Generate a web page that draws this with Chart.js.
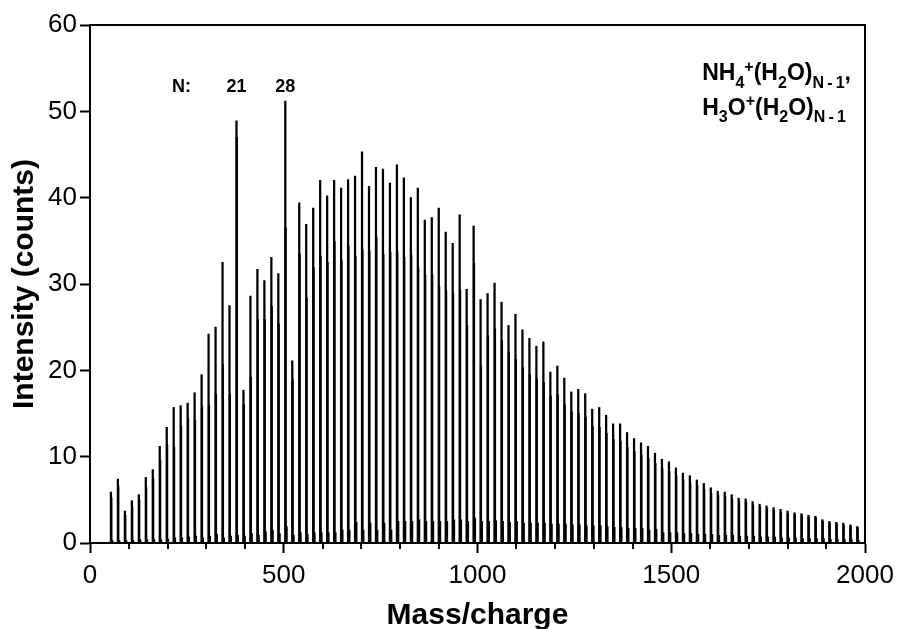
<!DOCTYPE html>
<html>
<head>
<meta charset="utf-8">
<title>Water cluster ion mass spectrum</title>
<script src="https://cdn.jsdelivr.net/npm/chart.js@4.4.1/dist/chart.umd.min.js"></script>
<style>
    html, body { margin: 0; padding: 0; background: #fff; }
    #wrap { position: relative; width: 897px; height: 629px; }
</style>
</head>
<body>
<div id="wrap"><canvas id="spectrumChart"></canvas></div>
<script>
// Cluster masses (m/z) of NH4+(H2O)N-1, N = 3 ... 110
const clusterMass = [
    54, 72, 90, 108, 126, 144, 162, 180, 198, 216,
    234, 252, 270, 288, 306, 324, 342, 360, 378, 396,
    414, 432, 450, 468, 486, 504, 522, 540, 558, 576,
    594, 612, 630, 648, 666, 684, 702, 720, 738, 756,
    774, 792, 810, 828, 846, 864, 882, 900, 918, 936,
    954, 972, 990, 1008, 1026, 1044, 1062, 1080, 1098, 1116,
    1134, 1152, 1170, 1188, 1206, 1224, 1242, 1260, 1278, 1296,
    1314, 1332, 1350, 1368, 1386, 1404, 1422, 1440, 1458, 1476,
    1494, 1512, 1530, 1548, 1566, 1584, 1602, 1620, 1638, 1656,
    1674, 1692, 1710, 1728, 1746, 1764, 1782, 1800, 1818, 1836,
    1854, 1872, 1890, 1908, 1926, 1944, 1962, 1980
];

// Tallest line of each cluster (counts)
const peakIntensity = [
    5.9, 7.4, 3.7, 4.9, 5.6, 7.6, 8.5, 11.2, 13.4, 15.7,
    15.9, 16.2, 17.4, 19.5, 24.2, 25.0, 32.5, 27.5, 48.9, 17.7,
    28.6, 31.7, 30.4, 33.1, 31.2, 51.2, 21.1, 39.4, 36.9, 38.8,
    42.0, 40.2, 42.0, 41.1, 42.1, 42.5, 45.3, 41.3, 43.5, 43.3,
    41.7, 43.8, 42.3, 40.0, 41.1, 37.4, 37.7, 38.8, 36.0, 34.7,
    38.0, 29.4, 36.7, 28.2, 28.9, 30.1, 27.9, 25.2, 26.5, 24.7,
    23.7, 22.8, 23.3, 19.8, 20.5, 19.1, 17.5, 17.8, 17.3, 15.5,
    15.7, 14.8, 13.8, 13.8, 12.8, 12.1, 11.6, 11.2, 10.4, 9.7,
    9.4, 8.7, 8.1, 7.8, 7.3, 6.9, 6.4, 6.0, 5.9, 5.6,
    5.2, 5.1, 4.8, 4.5, 4.3, 4.1, 3.9, 3.7, 3.5, 3.4,
    3.2, 3.1, 2.7, 2.5, 2.4, 2.3, 2.1, 1.9
];

// Second line of each pair, H3O+(H2O)N-1 one mass unit higher (counts)
const pairIntensity = [
    5.2, 6.6, 3.2, 4.2, 5.0, 6.4, 7.5, 9.6, 11.4, 11.1,
    13.5, 14.4, 14.2, 15.9, 15.9, 17.2, 20.7, 17.2, 47.0, 16.0,
    19.2, 25.9, 25.9, 27.4, 25.4, 36.5, 19.0, 33.5, 28.4, 31.9,
    33.2, 32.5, 34.9, 32.7, 34.4, 33.2, 34.0, 33.8, 35.4, 33.4,
    33.7, 33.8, 33.1, 33.4, 31.9, 31.0, 31.1, 29.7, 29.2, 28.9,
    29.3, 25.2, 32.4, 20.5, 24.0, 24.8, 23.5, 22.1, 21.3, 20.3,
    19.5, 19.0, 18.6, 17.0, 17.2, 16.0, 15.2, 15.0, 14.6, 13.5,
    13.4, 12.7, 12.0, 11.8, 11.1, 10.6, 10.2, 9.8, 9.2, 8.6,
    8.3, 7.8, 7.3, 7.0, 6.6, 6.2, 5.8, 5.5, 5.4, 5.1,
    4.8, 4.7, 4.4, 4.2, 4.0, 3.8, 3.6, 3.4, 3.3, 3.2,
    3.0, 2.9, 2.5, 2.3, 2.2, 2.1, 2.0, 1.8
];

// Small satellite peaks just above each cluster mass (counts)
const satelliteIntensity = [
    0.3, 0.3, 0.3, 0.3, 0.4, 0.4, 0.4, 0.4, 0.45, 0.6,
    0.6, 0.7, 0.8, 0.6, 0.8, 1.0, 0.6, 0.8, 0.9, 0.8,
    1.1, 0.9, 1.3, 1.5, 1.1, 1.9, 0.9, 1.2, 1.0, 1.2,
    1.2, 1.2, 1.2, 1.5, 1.5, 2.4, 1.5, 2.3, 1.5, 2.3,
    1.5, 2.5, 2.5, 2.5, 2.7, 2.5, 2.5, 2.5, 2.5, 2.7,
    2.7, 2.5, 2.9, 2.5, 2.5, 2.6, 2.5, 2.4, 2.5, 2.3,
    2.3, 2.3, 2.3, 2.2, 2.2, 2.2, 2.1, 2.1, 2.0, 2.0,
    2.0, 1.9, 1.8, 1.8, 1.7, 1.7, 1.7, 1.5, 1.6, 1.2,
    1.2, 1.2, 1.1, 1.1, 1.0, 1.0, 1.0, 0.9, 0.9, 0.9,
    0.8, 0.8, 0.8, 0.7, 0.7, 0.7, 0.6, 0.6, 0.6, 0.5,
    0.5, 0.5, 0.5, 0.4, 0.4, 0.4, 0.4, 0.3
];

// Clusters marked above the spectrum
const markedClusters = ['21', '28'];
const markedMass = [378, 504];

const FONT = '"Liberation Sans", Arial, Helvetica, sans-serif';

const toPoints = (masses, values, shift) =>
    masses.map((m, i) => ({ x: m + shift, y: values[i] }));

// Minor x ticks every 100 plus labels N:, 21, 28 and the ion formulas
const annotations = {
    id: 'annotations',
    afterDraw(chart) {
        const { ctx, chartArea } = chart;
        const x = chart.scales.x;
        const y = chart.scales.y;
        ctx.save();

        // minor ticks (major ones come from the axis itself)
        ctx.strokeStyle = '#000';
        ctx.lineWidth = 2;
        for (let v = 100; v < 2000; v += 100) {
            if (v % 500 === 0) continue;
            const px = Math.round(x.getPixelForValue(v));
            ctx.beginPath();
            ctx.moveTo(px, chartArea.bottom);
            ctx.lineTo(px, chartArea.bottom + 6);
            ctx.stroke();
        }

        ctx.fillStyle = '#000';
        ctx.font = 'bold 18px ' + FONT;
        ctx.textAlign = 'center';
        ctx.textBaseline = 'middle';
        const labelY = y.getPixelForValue(52.8);
        ctx.fillText('N:', x.getPixelForValue(236), labelY);
        markedClusters.forEach((txt, i) => {
            ctx.fillText(txt, x.getPixelForValue(markedMass[i]), labelY);
        });

        // NH4+(H2O)N-1, / H3O+(H2O)N-1 with sub- and superscripts
        const drawRich = (parts, startX, baseY) => {
            let cx = startX;
            parts.forEach(([text, kind]) => {
                const size = kind === 'n' ? 23 : 16;
                const dy = kind === 'sub' ? 7.5 : (kind === 'sup' ? -8.5 : 0);
                ctx.font = 'bold ' + size + 'px ' + FONT;
                ctx.fillText(text, cx, baseY + dy);
                cx += ctx.measureText(text).width;
            });
        };
        ctx.textAlign = 'left';
        ctx.textBaseline = 'alphabetic';
        const left = x.getPixelForValue(1580);
        drawRich([['NH', 'n'], ['4', 'sub'], ['+', 'sup'], ['(H', 'n'], ['2', 'sub'],
                  ['O)', 'n'], ['N\u2009-\u20091', 'sub'], [',', 'n']], left, y.getPixelForValue(53.6));
        drawRich([['H', 'n'], ['3', 'sub'], ['O', 'n'], ['+', 'sup'], ['(H', 'n'], ['2', 'sub'],
                  ['O)', 'n'], ['N\u2009-\u20091', 'sub']], left, y.getPixelForValue(49.6));
        ctx.restore();
    }
};

const barStyle = {
    backgroundColor: '#000',
    borderWidth: 0,
    barThickness: 1.6,
    grouped: false
};

new Chart(document.getElementById('spectrumChart'), {
    type: 'bar',
    data: {
        datasets: [
            { label: 'satellite', data: toPoints(clusterMass, satelliteIntensity, 4), ...barStyle, barThickness: 1.1 },
            { label: 'H3O+(H2O)N-1', data: toPoints(clusterMass, pairIntensity, 1), ...barStyle },
            { label: 'NH4+(H2O)N-1', data: toPoints(clusterMass, peakIntensity, 0), ...barStyle }
        ]
    },
    options: {
        responsive: true,
        maintainAspectRatio: false,
        animation: false,
        devicePixelRatio: 1,
        layout: { padding: { top: 25, right: 32, bottom: 0, left: 0 } },
        plugins: {
            legend: { display: false },
            tooltip: { enabled: false }
        },
        scales: {
            x: {
                type: 'linear',
                position: 'bottom',
                min: 0,
                max: 2000,
                offset: false,
                grid: {
                    offset: false,
                    drawOnChartArea: false,
                    drawTicks: true,
                    tickLength: 10,
                    tickWidth: 2,
                    tickColor: ctx => (ctx.tick && ctx.tick.value % 500 === 0) ? '#000' : 'rgba(0,0,0,0)'
                },
                border: { display: true, color: '#000', width: 2 },
                ticks: {
                    stepSize: 100,
                    autoSkip: false,
                    maxRotation: 0,
                    padding: 7,
                    color: '#000',
                    font: { family: FONT, size: 26, lineHeight: 1.2 },
                    callback: v => (v % 500 === 0 ? String(v) : '')
                },
                title: {
                    display: true,
                    text: 'Mass/charge',
                    color: '#000',
                    font: { family: FONT, size: 30, weight: 'bold', lineHeight: 1.0 },
                    padding: { top: 0, bottom: -1.5 }
                },
                afterFit: scale => {
                    scale.height = 86;
                    scale.paddingLeft = 0;
                    scale.paddingRight = 0;
                }
            },
            y: {
                type: 'linear',
                position: 'left',
                min: 0,
                max: 60,
                grid: {
                    drawOnChartArea: false,
                    drawTicks: true,
                    tickLength: 10,
                    tickWidth: 2,
                    tickColor: '#000'
                },
                border: { display: true, color: '#000', width: 2 },
                ticks: {
                    stepSize: 10,
                    padding: 3,
                    color: '#000',
                    font: { family: FONT, size: 26, lineHeight: 1.2 }
                },
                title: {
                    display: true,
                    text: 'Intensity (counts)',
                    color: '#000',
                    font: { family: FONT, size: 30, weight: 'bold', lineHeight: 1.1 },
                    padding: { top: 8, bottom: 0 }
                },
                afterFit: scale => { scale.width = 90; }
            },
            // frame lines on top and right
            xTop: {
                type: 'linear',
                position: 'top',
                min: 0,
                max: 2000,
                grid: { drawOnChartArea: false, drawTicks: false },
                border: { display: true, color: '#000', width: 2 },
                ticks: { display: false },
                afterFit: scale => { scale.height = 0; scale.paddingLeft = 0; scale.paddingRight = 0; }
            },
            yRight: {
                type: 'linear',
                position: 'right',
                min: 0,
                max: 60,
                grid: { drawOnChartArea: false, drawTicks: false },
                border: { display: true, color: '#000', width: 2 },
                ticks: { display: false },
                afterFit: scale => { scale.width = 0; scale.paddingTop = 0; scale.paddingBottom = 0; }
            }
        }
    },
    plugins: [annotations]
});
</script>
</body>
</html>
